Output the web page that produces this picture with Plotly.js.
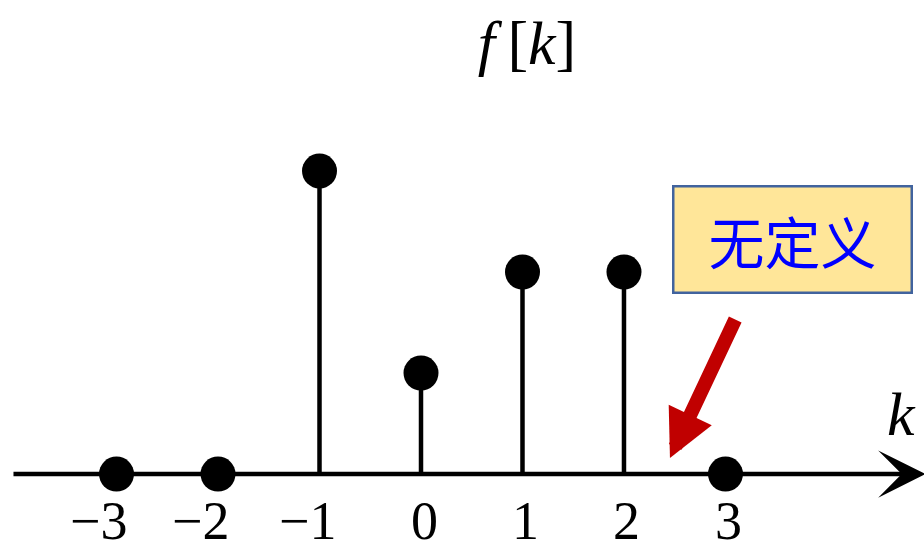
<!DOCTYPE html>
<html>
<head>
<meta charset="utf-8">
<script src="https://cdn.plot.ly/plotly-3.0.1.min.js"></script>
<style>
  html, body { margin: 0; padding: 0; background: #ffffff; }
  #plot { width: 924px; height: 553px; }
</style>
</head>
<body>
<div id="plot"></div>
<script>
// discrete sequence f[k]
const k = [-3, -2, -1, 0, 1, 2, 3];
const f = [0, 0, 3, 1, 2, 2, 0];
const tickText = ['\u22123', '\u22122', '\u22121', '0', '1', '2', '3'];
const noteText = '无定义';

const serif = 'Liberation Serif, DejaVu Serif, serif';

// stems: one vertical segment per non-zero sample
const stemX = [], stemY = [];
k.forEach((kk, i) => {
  if (f[i] !== 0) { stemX.push(kk, kk, null); stemY.push(0, f[i], null); }
});

const traces = [
  {
    x: stemX, y: stemY, type: 'scatter', mode: 'lines',
    line: { color: '#000000', width: 4.5 }, hoverinfo: 'skip', showlegend: false
  },
  {
    x: k, y: f, type: 'scatter', mode: 'markers',
    marker: { color: '#000000', size: 35, line: { width: 0 } },
    showlegend: false, cliponaxis: false
  }
];

const annotations = [];

// horizontal axis with arrow head
annotations.push({
  xref: 'x', yref: 'y', axref: 'x', ayref: 'y',
  x: 4.97, y: 0, ax: -4.03, ay: 0,
  text: '', showarrow: true,
  arrowhead: 3, arrowwidth: 4.5, arrowsize: 1.75, arrowcolor: '#000000'
});

// tick labels under each sample
k.forEach((kk, i) => {
  annotations.push({
    xref: 'x', yref: 'y', x: kk, y: -0.47,
    text: tickText[i], showarrow: false,
    xshift: tickText[i].startsWith('\u2212') ? (kk === -1 ? -12 : -18) : 3,
    font: { family: serif, size: 54, color: '#000000' }
  });
});

// axis variable
annotations.push({
  xref: 'paper', yref: 'paper', x: 0.994, y: 1 - 450 / 553,
  text: '<i>k</i>', showarrow: false,
  font: { family: serif, size: 62, color: '#000000' }
});

// callout box
annotations.push({
  xref: 'paper', yref: 'paper', x: 792.5 / 924, y: 1 - 239.5 / 553,
  xanchor: 'center', yanchor: 'middle',
  text: noteText, showarrow: false,
  width: 236, height: 104, borderpad: 0, borderwidth: 2.5,
  bgcolor: '#FFE699', bordercolor: '#41639E',
  font: { family: 'Noto Sans CJK SC, sans-serif', size: 56, color: '#0000FF' }
});

// red pointer arrow
annotations.push({
  xref: 'x', yref: 'y', axref: 'x', ayref: 'y',
  x: 2.453, y: 0.158, ax: 3.103, ay: 1.545,
  text: '', showarrow: true,
  arrowhead: 2, arrowwidth: 14, arrowsize: 0.68, arrowcolor: '#C00000'
});

const layout = {
  width: 924, height: 553,
  margin: { l: 0, r: 0, t: 0, b: 0 },
  paper_bgcolor: '#ffffff', plot_bgcolor: '#ffffff',
  title: {
    text: '<i>f</i>\u2009[<i>k</i>]',
    font: { family: serif, size: 62, color: '#000000' },
    xref: 'container', yref: 'container',
    x: 527 / 924, y: 1 - 42 / 553, xanchor: 'center', yanchor: 'middle'
  },
  xaxis: { range: [-4.148, 4.956], visible: false, fixedrange: true },
  yaxis: { range: [-0.782, 4.693], visible: false, fixedrange: true },
  showlegend: false,
  annotations: annotations
};

Plotly.newPlot('plot', traces, layout, { displayModeBar: false, staticPlot: true });
</script>
</body>
</html>
